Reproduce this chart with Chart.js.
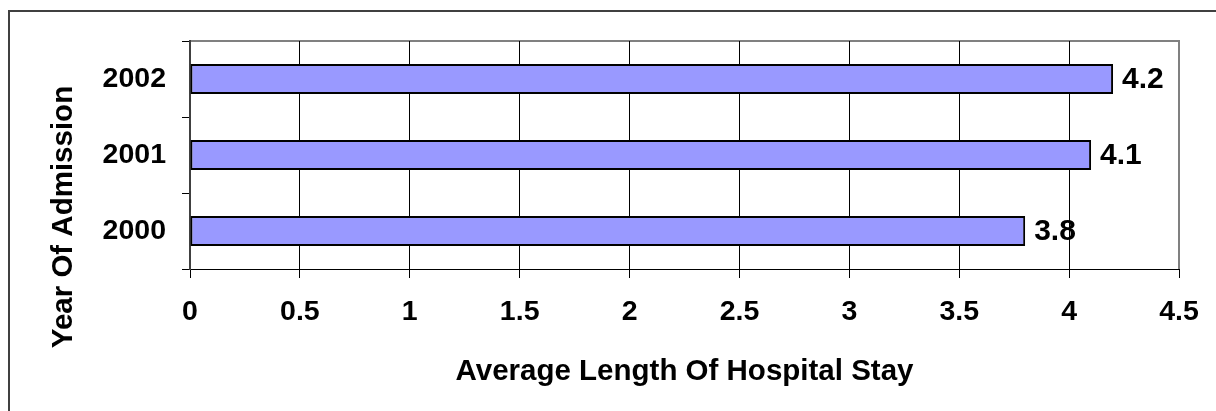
<!DOCTYPE html>
<html>
<head>
<meta charset="utf-8">
<script src="https://cdn.jsdelivr.net/npm/chart.js@4/dist/chart.umd.min.js"></script>
<style>
  html, body { margin: 0; padding: 0; background: #fff; overflow: hidden; }
  #wrap { position: relative; width: 1216px; height: 411px; }
</style>
</head>
<body>
<div id="wrap"><canvas id="c" width="1216" height="411"></canvas></div>
<script>
const categories = ['2000', '2001', '2002'];
const stayValues = [3.8, 4.1, 4.2];
const xTicks = [0, 0.5, 1, 1.5, 2, 2.5, 3, 3.5, 4, 4.5];
const xTitle = 'Average Length Of Hospital Stay';
const yTitle = 'Year Of Admission';

const FONT = '"Liberation Sans", Arial, sans-serif';

const framePlugin = {
  id: 'frame',
  beforeDraw(chart) {
    const ctx = chart.ctx;
    ctx.save();
    ctx.fillStyle = '#fff';
    ctx.fillRect(0, 0, chart.width, chart.height);
    ctx.strokeStyle = '#404040';
    ctx.lineWidth = 2;
    ctx.strokeRect(9, 11, chart.width + 20, chart.height + 20);
    const a = chart.chartArea;
    ctx.strokeStyle = '#808080';
    ctx.lineWidth = 2;
    ctx.beginPath();
    ctx.moveTo(a.left, a.top);
    ctx.lineTo(a.right, a.top);
    ctx.lineTo(a.right, a.bottom);
    ctx.stroke();
    ctx.restore();
  },
  afterDraw(chart) {
    const ctx = chart.ctx;
    const a = chart.chartArea;
    ctx.save();
    ctx.fillStyle = '#000';
    ctx.font = 'bold 29.5px ' + FONT;
    ctx.textAlign = 'center';
    ctx.textBaseline = 'alphabetic';
    ctx.fillText(xTitle, (a.left + a.right) / 2, 380);
    ctx.save();
    ctx.translate(72, 217);
    ctx.rotate(-Math.PI / 2);
    ctx.fillText(yTitle, 0, 0);
    ctx.restore();
    // data labels
    const meta = chart.getDatasetMeta(0);
    ctx.textAlign = 'left';
    ctx.textBaseline = 'middle';
    ctx.font = 'bold 30px ' + FONT;
    meta.data.forEach((bar, i) => {
      ctx.fillText(String(stayValues[i]), bar.x + 9, bar.y + 1);
    });
    ctx.restore();
  }
};

new Chart(document.getElementById('c'), {
  type: 'bar',
  data: {
    labels: categories,
    datasets: [{
      data: stayValues,
      backgroundColor: '#9999FF',
      borderColor: '#000',
      borderWidth: 2,
      borderSkipped: false,
      barPercentage: 0.395,
      categoryPercentage: 1.0
    }]
  },
  options: {
    indexAxis: 'y',
    responsive: false,
    animation: false,
    devicePixelRatio: 1,
    layout: { padding: { top: 41, right: 37, left: 0, bottom: 0 } },
    plugins: { legend: { display: false }, tooltip: { enabled: false }, title: { display: false } },
    scales: {
      x: {
        type: 'linear',
        min: 0, max: 4.5,
        afterBuildTicks(scale) { scale.ticks = xTicks.map(v => ({ value: v })); },
        afterFit(scale) { scale.height = 142; },
        border: { display: true, color: '#000', width: 1 },
        grid: {
          drawOnChartArea: true,
          drawTicks: true,
          tickLength: 9,
          color: (c) => (c.tick && c.tick.value === 4.5) ? '#808080' : '#000',
          tickColor: '#000',
          lineWidth: 1
        },
        ticks: {
          color: '#000',
          font: { family: FONT, size: 28.5, weight: 'bold' },
          padding: 17,
          maxRotation: 0,
          autoSkip: false,
          callback: (v) => String(v)
        }
      },
      y: {
        reverse: true,
        afterFit(scale) { scale.width = 190; },
        border: { display: true, color: '#404040', width: 2 },
        grid: {
          offset: true,
          drawOnChartArea: false,
          drawTicks: true,
          tickLength: 8,
          color: '#000',
          tickColor: '#000',
          lineWidth: 1
        },
        ticks: {
          color: '#000',
          font: { family: FONT, size: 28.5, weight: 'bold' },
          padding: 16
        }
      }
    }
  },
  plugins: [framePlugin]
});
</script>
</body>
</html>
